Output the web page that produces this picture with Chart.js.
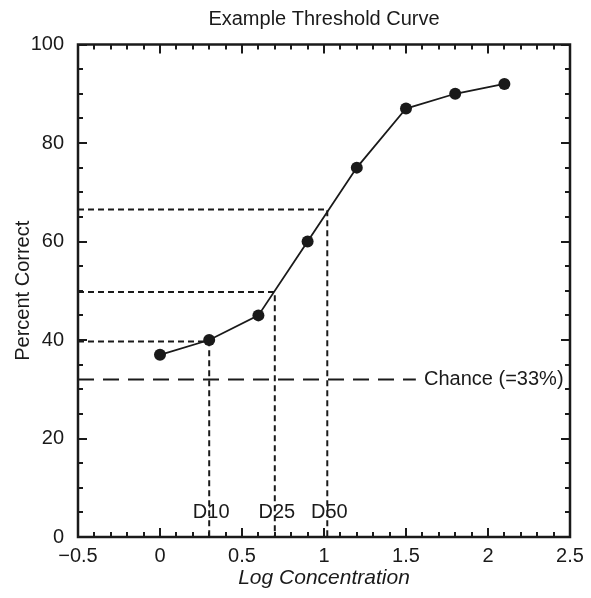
<!DOCTYPE html>
<html lang="en">
<head>
    <meta charset="UTF-8">
    <title>Example Threshold Curve</title>
    <script src="https://cdn.jsdelivr.net/npm/chart.js"></script>
    <style>
        html, body {
            margin: 0;
            padding: 0;
            background: #fff;
        }
        #wrap {
            width: 591px;
            height: 598px;
        }
    </style>
</head>
<body>
    <div id="wrap"><canvas id="chart"></canvas></div>

    <script>
        // data
        const logConc = [0, 0.3, 0.6, 0.9, 1.2, 1.5, 1.8, 2.1];
        const percentCorrect = [37, 40, 45, 60, 75, 87, 90, 92];

        const thresholdNames = ['D10', 'D25', 'D50'];
        const thresholdX = [0.3, 0.7, 1.02];
        const thresholdY = [39.7, 49.75, 66.5];
        const thresholdLabelY = 5;

        const chanceLevel = 32;
        const chanceLineEnd = 1.56;
        const chanceText = 'Chance (=33%)';

        const xMin = -0.5, xMax = 2.5, xStep = 0.5, xMinor = 0.1;
        const yMin = 0, yMax = 100, yStep = 20, yMinor = 5;

        const FONT = '"Liberation Sans", Arial, Helvetica, sans-serif';
        const INK = '#1a1a1a';

        const datasets = [];

        thresholdNames.forEach((name, i) => {
            datasets.push({
                label: name,
                data: [
                    { x: xMin, y: thresholdY[i] },
                    { x: thresholdX[i], y: thresholdY[i] },
                    { x: thresholdX[i], y: yMin }
                ],
                borderColor: INK,
                borderWidth: 2,
                borderDash: [6, 4],
                pointRadius: 0,
                fill: false
            });
        });

        datasets.push({
            label: 'chance',
            data: [{ x: xMin, y: chanceLevel }, { x: chanceLineEnd, y: chanceLevel }],
            borderColor: INK,
            borderWidth: 2,
            borderDash: [16, 9],
            pointRadius: 0,
            fill: false
        });

        datasets.push({
            label: 'Percent Correct',
            data: logConc.map((x, i) => ({ x: x, y: percentCorrect[i] })),
            borderColor: INK,
            borderWidth: 1.8,
            pointRadius: 6,
            pointBackgroundColor: INK,
            pointBorderWidth: 0,
            fill: false
        });

        // frame, inward ticks on all sides, and the text annotations
        const framePlugin = {
            id: 'frameTicks',
            afterDatasetsDraw(chart) {
                const ctx = chart.ctx;
                const xs = chart.scales.x, ys = chart.scales.y;
                ctx.save();
                ctx.fillStyle = INK;
                ctx.font = '20px ' + FONT;
                ctx.textBaseline = 'middle';
                ctx.textAlign = 'center';
                thresholdNames.forEach((name, i) => {
                    ctx.fillText(name, xs.getPixelForValue(thresholdX[i]) + 2, ys.getPixelForValue(thresholdLabelY));
                });
                ctx.textAlign = 'left';
                ctx.fillText(chanceText, xs.getPixelForValue(1.61), ys.getPixelForValue(chanceLevel));
                ctx.restore();
            },
            afterDraw(chart) {
                const ctx = chart.ctx;
                const a = chart.chartArea;
                const xs = chart.scales.x, ys = chart.scales.y;
                ctx.save();
                ctx.strokeStyle = INK;
                ctx.lineWidth = 2;

                ctx.beginPath();
                for (let k = 0; k <= Math.round((xMax - xMin) / xMinor); k++) {
                    const v = xMin + k * xMinor;
                    const major = Math.abs(v / xStep - Math.round(v / xStep)) < 1e-6;
                    const len = major ? 9 : 5;
                    const px = Math.round(xs.getPixelForValue(v));
                    ctx.moveTo(px, a.bottom); ctx.lineTo(px, a.bottom - len);
                    ctx.moveTo(px, a.top); ctx.lineTo(px, a.top + len);
                }
                for (let k = 0; k <= Math.round((yMax - yMin) / yMinor); k++) {
                    const v = yMin + k * yMinor;
                    const major = v % yStep === 0;
                    const len = major ? 9 : 5;
                    const py = Math.round(ys.getPixelForValue(v));
                    ctx.moveTo(a.left, py); ctx.lineTo(a.left + len, py);
                    ctx.moveTo(a.right, py); ctx.lineTo(a.right - len, py);
                }
                ctx.stroke();

                ctx.lineWidth = 2.5;
                ctx.strokeRect(a.left, a.top, a.right - a.left, a.bottom - a.top);
                ctx.restore();
            }
        };

        new Chart(document.getElementById('chart'), {
            type: 'line',
            data: { datasets: datasets },
            options: {
                responsive: true,
                maintainAspectRatio: false,
                animation: false,
                layout: {
                    padding: { left: 0, right: 21, top: 0, bottom: 0 }
                },
                plugins: {
                    legend: { display: false },
                    tooltip: { enabled: false },
                    title: {
                        display: true,
                        text: 'Example Threshold Curve',
                        color: INK,
                        fullSize: false,
                        font: { family: FONT, size: 20, weight: 'normal' },
                        padding: { top: 7, bottom: 13.5 }
                    }
                },
                scales: {
                    x: {
                        type: 'linear',
                        min: xMin,
                        max: xMax,
                        grid: { display: false, drawTicks: false },
                        border: { display: false },
                        ticks: {
                            stepSize: xStep,
                            color: INK,
                            padding: 7,
                            maxRotation: 0,
                            font: { family: FONT, size: 20 },
                            callback: v => String(v).replace('-', '\u2212')
                        },
                        title: {
                            display: true,
                            text: 'Log Concentration',
                            color: INK,
                            font: { family: FONT, size: 21, style: 'italic' },
                            padding: { top: 0, bottom: 7.5 }
                        },
                        afterFit(scale) { scale.height = 61; }
                    },
                    y: {
                        min: yMin,
                        max: yMax,
                        grid: { display: false, drawTicks: false },
                        border: { display: false },
                        ticks: {
                            stepSize: yStep,
                            color: INK,
                            padding: 14,
                            font: { family: FONT, size: 20 }
                        },
                        title: {
                            display: true,
                            text: 'Percent Correct',
                            color: INK,
                            font: { family: FONT, size: 20 },
                            padding: { top: 11, bottom: 0 }
                        },
                        afterFit(scale) { scale.width = 78; }
                    }
                }
            },
            plugins: [framePlugin]
        });
    </script>
</body>
</html>
